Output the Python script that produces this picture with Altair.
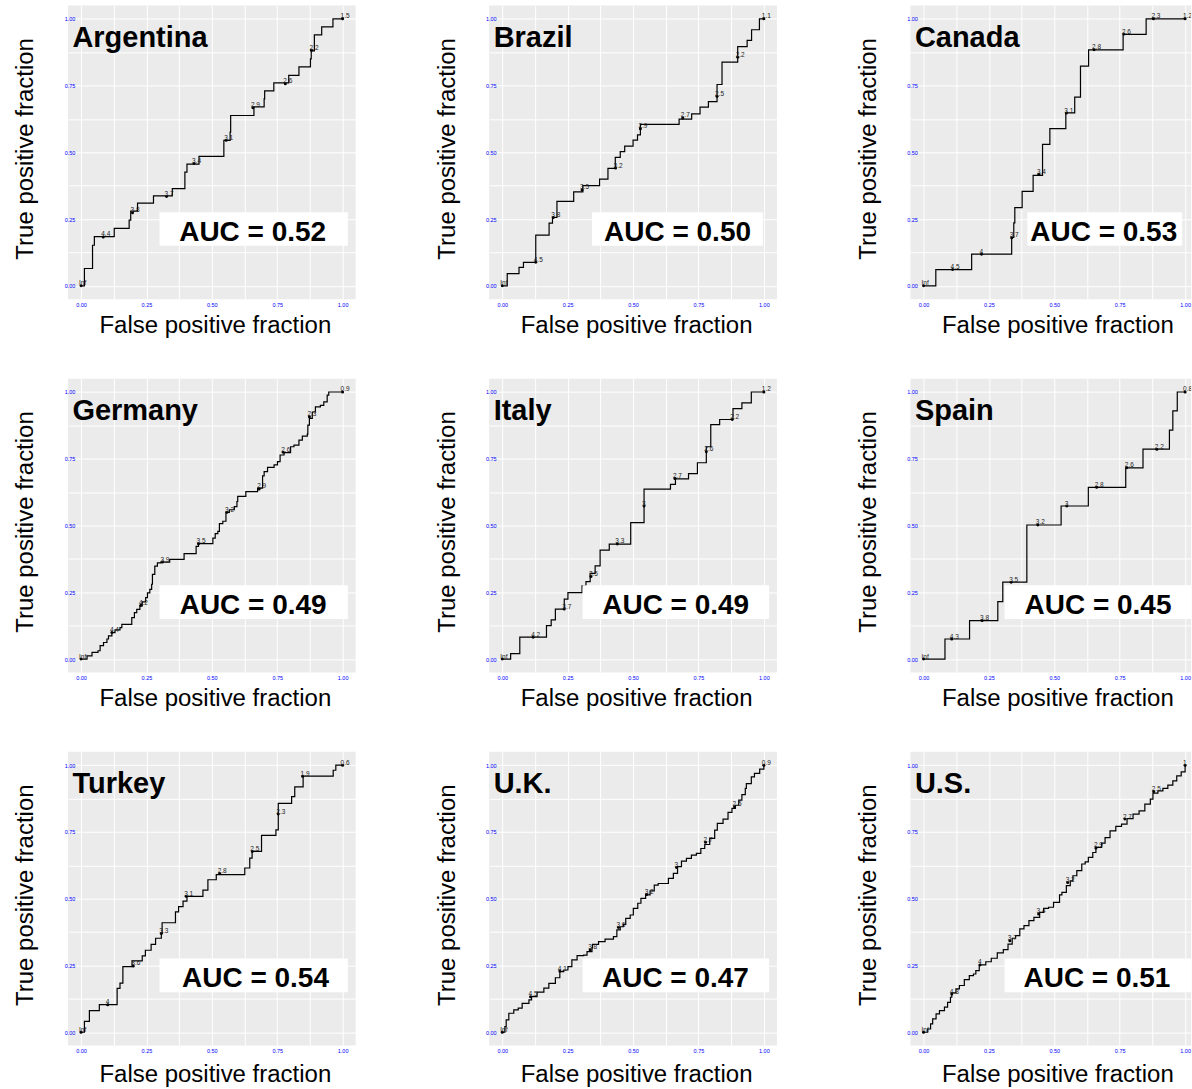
import altair as alt
import pandas as pd

FONT = "Liberation Sans"

countries = ["Argentina", "Brazil", "Canada", "Germany", "Italy", "Spain", "Turkey", "U.K.", "U.S."]
auc_values = ["0.52", "0.50", "0.53", "0.49", "0.49", "0.45", "0.54", "0.47", "0.51"]

# ---- ROC curves (false positive fraction, true positive fraction) ----
arg_fpr = [0, 0.013, 0.044, 0.051, 0.127, 0.184, 0.19, 0.216, 0.277, 0.349, 0.397, 0.405, 0.451, 0.546, 0.57, 0.572, 0.661, 0.70, 0.702, 0.737, 0.794, 0.833, 0.877, 0.88, 0.892, 0.92, 0.963, 1.0]
arg_tpr = [0, 0.065, 0.152, 0.184, 0.215, 0.246, 0.28, 0.31, 0.337, 0.364, 0.426, 0.456, 0.485, 0.545, 0.576, 0.638, 0.67, 0.70, 0.73, 0.76, 0.788, 0.82, 0.85, 0.88, 0.94, 0.97, 1.0, 1.0]
arg_cut_fpr = [0, 0.085, 0.197, 0.327, 0.432, 0.555, 0.657, 0.781, 0.881, 1.0]
arg_cut_tpr = [0, 0.183, 0.274, 0.335, 0.458, 0.545, 0.667, 0.757, 0.882, 1.0]
arg_cut = ["Inf", "4.4", "3.8", "3.7", "3.4", "3.1", "2.9", "2.6", "2.2", "1.5"]

bra_fpr = [0, 0.019, 0.064, 0.081, 0.128, 0.179, 0.192, 0.209, 0.273, 0.308, 0.372, 0.404, 0.432, 0.451, 0.468, 0.5, 0.517, 0.528, 0.676, 0.724, 0.756, 0.788, 0.821, 0.840, 0.9, 0.936, 0.953, 0.983, 1.0]
bra_tpr = [0, 0.046, 0.069, 0.088, 0.19, 0.235, 0.256, 0.316, 0.352, 0.375, 0.40, 0.44, 0.481, 0.503, 0.523, 0.546, 0.565, 0.605, 0.624, 0.644, 0.669, 0.69, 0.754, 0.838, 0.896, 0.919, 0.959, 1.0, 1.0]
bra_cut_fpr = [0, 0.128, 0.195, 0.305, 0.433, 0.528, 0.69, 0.821, 0.9, 1.0]
bra_cut_tpr = [0, 0.088, 0.256, 0.359, 0.441, 0.588, 0.629, 0.71, 0.856, 1.0]
bra_cut = ["Inf", "4.5", "3.8", "3.5", "3.2", "2.9", "2.7", "2.5", "2.2", "1.1"]

can_fpr = [0, 0.047, 0.184, 0.337, 0.345, 0.349, 0.377, 0.419, 0.455, 0.483, 0.544, 0.578, 0.6, 0.631, 0.763, 0.851, 1.0]
can_tpr = [0, 0.061, 0.119, 0.181, 0.236, 0.293, 0.354, 0.414, 0.53, 0.589, 0.648, 0.707, 0.823, 0.884, 0.942, 1.0, 1.0]
can_cut_fpr = [0, 0.111, 0.222, 0.337, 0.441, 0.546, 0.652, 0.766, 0.879, 1.0]
can_cut_tpr = [0, 0.061, 0.118, 0.18, 0.418, 0.647, 0.884, 0.943, 1.0, 1.0]
can_cut = ["Inf", "4.5", "4", "3.7", "3.4", "3.1", "2.8", "2.6", "2.3", "1.2"]

ger_fpr = [0, 0.023, 0.042, 0.065, 0.073, 0.086, 0.099, 0.105, 0.118, 0.13, 0.149, 0.156, 0.194, 0.204, 0.213, 0.225, 0.234, 0.247, 0.254, 0.263, 0.27, 0.273, 0.282, 0.292, 0.305, 0.339, 0.394, 0.44, 0.449, 0.504, 0.513, 0.523, 0.529, 0.542, 0.554, 0.567, 0.586, 0.596, 0.599, 0.63, 0.675, 0.694, 0.7, 0.713, 0.738, 0.751, 0.761, 0.776, 0.801, 0.814, 0.833, 0.846, 0.865, 0.867, 0.873, 0.884, 0.896, 0.915, 0.928, 0.941, 0.947, 1.0]
ger_tpr = [0, 0.012, 0.025, 0.031, 0.05, 0.062, 0.075, 0.087, 0.099, 0.109, 0.118, 0.13, 0.155, 0.174, 0.186, 0.199, 0.214, 0.23, 0.248, 0.261, 0.28, 0.317, 0.348, 0.36, 0.363, 0.373, 0.395, 0.422, 0.432, 0.453, 0.47, 0.478, 0.507, 0.516, 0.549, 0.559, 0.571, 0.59, 0.609, 0.627, 0.64, 0.686, 0.702, 0.718, 0.727, 0.739, 0.764, 0.773, 0.795, 0.801, 0.82, 0.835, 0.842, 0.876, 0.901, 0.925, 0.944, 0.95, 0.963, 0.988, 1.0, 1.0]
ger_cut_fpr = [0, 0.118, 0.229, 0.311, 0.449, 0.558, 0.681, 0.773, 0.873, 1.0]
ger_cut_tpr = [0, 0.099, 0.201, 0.363, 0.432, 0.55, 0.637, 0.774, 0.907, 1.0]
ger_cut = ["Inf", "4.4", "4.2", "3.9", "3.5", "3.2", "2.9", "2.6", "2.3", "0.9"]

ita_fpr = [0, 0.032, 0.067, 0.169, 0.187, 0.203, 0.237, 0.251, 0.305, 0.32, 0.336, 0.355, 0.374, 0.409, 0.491, 0.542, 0.643, 0.662, 0.712, 0.746, 0.78, 0.797, 0.831, 0.882, 0.916, 0.952, 1.0]
ita_tpr = [0, 0.02, 0.082, 0.125, 0.147, 0.187, 0.224, 0.249, 0.274, 0.29, 0.321, 0.349, 0.408, 0.43, 0.511, 0.636, 0.654, 0.675, 0.694, 0.735, 0.795, 0.878, 0.897, 0.938, 0.959, 1.0, 1.0]
ita_cut_fpr = [0, 0.118, 0.237, 0.339, 0.44, 0.542, 0.66, 0.78, 0.879, 1.0]
ita_cut_tpr = [0, 0.082, 0.187, 0.309, 0.431, 0.573, 0.676, 0.776, 0.897, 1.0]
ita_cut = ["Inf", "4.2", "3.7", "3.5", "3.3", "3", "2.7", "2.6", "2.2", "1.2"]

spa_fpr = [0, 0.082, 0.176, 0.284, 0.303, 0.395, 0.526, 0.63, 0.773, 0.839, 0.94, 0.953, 0.97, 1.0]
spa_tpr = [0, 0.075, 0.144, 0.215, 0.288, 0.502, 0.573, 0.643, 0.716, 0.786, 0.857, 0.929, 1.0, 1.0]
spa_cut_fpr = [0, 0.108, 0.224, 0.335, 0.437, 0.548, 0.662, 0.777, 0.892, 1.0]
spa_cut_tpr = [0, 0.075, 0.144, 0.288, 0.502, 0.573, 0.643, 0.716, 0.786, 1.0]
spa_cut = ["Inf", "4.3", "3.8", "3.5", "3.2", "3", "2.8", "2.6", "2.2", "0.8"]

tur_fpr = [0, 0.013, 0.032, 0.07, 0.138, 0.149, 0.16, 0.195, 0.234, 0.246, 0.268, 0.285, 0.307, 0.31, 0.361, 0.373, 0.39, 0.405, 0.466, 0.485, 0.517, 0.626, 0.645, 0.654, 0.69, 0.745, 0.754, 0.805, 0.817, 0.849, 0.964, 0.974, 1.0]
tur_tpr = [0, 0.041, 0.081, 0.103, 0.164, 0.184, 0.246, 0.267, 0.286, 0.307, 0.329, 0.352, 0.369, 0.41, 0.451, 0.47, 0.491, 0.509, 0.532, 0.571, 0.59, 0.615, 0.652, 0.677, 0.737, 0.758, 0.857, 0.882, 0.919, 0.959, 0.981, 1.0, 1.0]
tur_cut_fpr = [0, 0.102, 0.2, 0.307, 0.402, 0.53, 0.655, 0.754, 0.847, 1.0]
tur_cut_tpr = [0, 0.103, 0.248, 0.37, 0.509, 0.594, 0.677, 0.817, 0.959, 1.0]
tur_cut = ["Inf", "4", "3.6", "3.3", "3.1", "2.8", "2.5", "2.3", "1.9", "0.6"]

uk_fpr = [0, 0.01, 0.015, 0.025, 0.044, 0.061, 0.076, 0.102, 0.112, 0.133, 0.159, 0.178, 0.203, 0.22, 0.235, 0.251, 0.266, 0.286, 0.311, 0.324, 0.343, 0.345, 0.368, 0.393, 0.425, 0.438, 0.451, 0.463, 0.472, 0.489, 0.501, 0.518, 0.53, 0.548, 0.565, 0.581, 0.596, 0.622, 0.635, 0.654, 0.67, 0.685, 0.704, 0.723, 0.742, 0.759, 0.774, 0.793, 0.812, 0.822, 0.844, 0.863, 0.878, 0.891, 0.904, 0.916, 0.929, 0.933, 0.952, 0.964, 0.984, 1.0]
uk_tpr = [0, 0.021, 0.046, 0.071, 0.084, 0.09, 0.108, 0.121, 0.133, 0.15, 0.165, 0.183, 0.204, 0.227, 0.233, 0.246, 0.271, 0.287, 0.289, 0.302, 0.317, 0.329, 0.339, 0.349, 0.358, 0.383, 0.395, 0.404, 0.426, 0.439, 0.464, 0.483, 0.501, 0.514, 0.529, 0.551, 0.557, 0.557, 0.576, 0.595, 0.62, 0.641, 0.651, 0.663, 0.67, 0.688, 0.703, 0.726, 0.757, 0.782, 0.798, 0.823, 0.838, 0.85, 0.869, 0.89, 0.913, 0.931, 0.956, 0.969, 0.985, 1.0]
uk_cut_fpr = [0, 0.108, 0.22, 0.336, 0.444, 0.552, 0.666, 0.777, 0.888, 1.0]
uk_cut_tpr = [0, 0.133, 0.229, 0.308, 0.392, 0.516, 0.617, 0.711, 0.844, 1.0]
uk_cut = ["Inf", "4.5", "4.1", "3.8", "3.6", "3.2", "3", "2.7", "2.5", "0.9"]

us_fpr = [0, 0.016, 0.027, 0.035, 0.048, 0.061, 0.08, 0.092, 0.103, 0.108, 0.124, 0.137, 0.156, 0.175, 0.191, 0.2, 0.213, 0.238, 0.259, 0.282, 0.305, 0.323, 0.339, 0.352, 0.368, 0.384, 0.403, 0.422, 0.444, 0.459, 0.478, 0.497, 0.52, 0.529, 0.546, 0.561, 0.571, 0.586, 0.605, 0.618, 0.63, 0.647, 0.659, 0.681, 0.694, 0.713, 0.735, 0.757, 0.778, 0.801, 0.824, 0.846, 0.867, 0.877, 0.896, 0.915, 0.934, 0.953, 0.968, 0.985, 1.0]
us_tpr = [0, 0.012, 0.031, 0.05, 0.069, 0.081, 0.094, 0.112, 0.131, 0.147, 0.162, 0.175, 0.197, 0.212, 0.218, 0.231, 0.252, 0.264, 0.277, 0.297, 0.309, 0.33, 0.352, 0.362, 0.387, 0.399, 0.418, 0.43, 0.449, 0.464, 0.468, 0.486, 0.514, 0.524, 0.549, 0.567, 0.586, 0.605, 0.63, 0.638, 0.655, 0.673, 0.692, 0.708, 0.729, 0.754, 0.771, 0.779, 0.8, 0.817, 0.829, 0.854, 0.873, 0.895, 0.904, 0.913, 0.925, 0.941, 0.96, 0.975, 1.0]
us_cut_fpr = [0, 0.108, 0.216, 0.33, 0.44, 0.551, 0.659, 0.77, 0.88, 1.0]
us_cut_tpr = [0, 0.143, 0.252, 0.343, 0.443, 0.561, 0.69, 0.798, 0.901, 1.0]
us_cut = ["Inf", "4.3", "4", "3.7", "3.4", "3.2", "2.9", "2.7", "2.5", "1"]

curves = [
    (arg_fpr, arg_tpr, arg_cut_fpr, arg_cut_tpr, arg_cut),
    (bra_fpr, bra_tpr, bra_cut_fpr, bra_cut_tpr, bra_cut),
    (can_fpr, can_tpr, can_cut_fpr, can_cut_tpr, can_cut),
    (ger_fpr, ger_tpr, ger_cut_fpr, ger_cut_tpr, ger_cut),
    (ita_fpr, ita_tpr, ita_cut_fpr, ita_cut_tpr, ita_cut),
    (spa_fpr, spa_tpr, spa_cut_fpr, spa_cut_tpr, spa_cut),
    (tur_fpr, tur_tpr, tur_cut_fpr, tur_cut_tpr, tur_cut),
    (uk_fpr, uk_tpr, uk_cut_fpr, uk_cut_tpr, uk_cut),
    (us_fpr, us_tpr, us_cut_fpr, us_cut_tpr, us_cut),
]

# ---- layout / annotation settings ----
box_left = [0.30, 0.343, 0.397, 0.30, 0.307, 0.31, 0.30, 0.307, 0.31]
box_right = [1.02, 0.996, 0.989, 1.02, 1.02, 1.03, 1.02, 1.02, 1.03]
auc_center = [0.656, 0.67, 0.689, 0.658, 0.663, 0.667, 0.667, 0.662, 0.663]

W, H = 288, 294
W_LAST = 281
GRID = [i / 8 for i in range(9)]
LABEL_EXPR = "(datum.value * 4) % 1 == 0 ? format(datum.value, '.2f') : ''"


def panel(i):
    fpr, tpr, cfpr, ctpr, ctxt = curves[i]
    last_col = (i % 3 == 2)
    width = W_LAST if last_col else W
    xmax = -0.05 + width * 1.1 / W
    xs = alt.Scale(domain=[-0.05, xmax], nice=False, zero=False)
    ys = alt.Scale(domain=[-0.05, 1.05], nice=False, zero=False)
    title_y = 36 if i >= 6 else 33
    xax = alt.Axis(values=GRID, labelExpr=LABEL_EXPR, grid=True, gridColor="white", gridWidth=1,
                   domain=False, ticks=False, labelColor="blue", labelFont=FONT, labelFontSize=5.5,
                   labelPadding=3, labelFlush=False, labelOverlap=False,
                   title="False positive fraction", titleFont=FONT, titleFontSize=24,
                   titleFontWeight="normal", titleColor="black", titleX=147, titleY=title_y,
                   titleBaseline="alphabetic", titleAlign="center")
    yax = alt.Axis(values=GRID, labelExpr=LABEL_EXPR, grid=True, gridColor="white", gridWidth=1,
                   domain=False, ticks=False, labelColor="blue", labelFont=FONT, labelFontSize=5.5,
                   labelPadding=-7, labelFlush=False, labelOverlap=False,
                   title="True positive fraction", titleFont=FONT, titleFontSize=24,
                   titleFontWeight="normal", titleColor="black", titleX=-35, titleY=143,
                   titleBaseline="alphabetic", titleAlign="center", titleAngle=270)

    def X(f="fpr:Q"):
        return alt.X(f, scale=xs, axis=xax)

    def Y(f="tpr:Q"):
        return alt.Y(f, scale=ys, axis=yax)

    curve_df = pd.DataFrame({"fpr": fpr, "tpr": tpr})
    cut_df = pd.DataFrame({"fpr": cfpr, "tpr": ctpr, "cut": ctxt})
    name_df = pd.DataFrame({"fpr": [-0.033], "tpr": [0.895], "name": [countries[i]]})
    box_df = pd.DataFrame({"fpr": [box_left[i]], "fpr2": [box_right[i]], "tpr": [0.15], "tpr2": [0.276]})
    auc_df = pd.DataFrame({"fpr": [auc_center[i]], "tpr": [0.168], "lab": ["AUC = " + auc_values[i]]})

    line = alt.Chart(curve_df).mark_line(interpolate="step-after", color="black", strokeWidth=1.2).encode(
        x=X(), y=Y(), order="fpr:Q")
    pts = alt.Chart(cut_df).mark_point(filled=True, color="black", size=9, opacity=1, shape="circle").encode(
        x=X(), y=Y())
    cuts = alt.Chart(cut_df).mark_text(align="left", baseline="middle", dx=-2, dy=-2.5, fontSize=6.5,
                                       font=FONT, color="#222222", clip=True).encode(
        x=X(), y=Y(), text="cut:N")
    name = alt.Chart(name_df).mark_text(align="left", baseline="alphabetic", fontSize=29,
                                        fontWeight="bold", font=FONT, color="black").encode(
        x=X(), y=Y(), text="name:N")
    box = alt.Chart(box_df).mark_rect(color="white", clip=True).encode(
        x=X(), x2="fpr2:Q", y=Y(), y2="tpr2:Q")
    auc = alt.Chart(auc_df).mark_text(align="center", baseline="alphabetic", fontSize=28,
                                      fontWeight="bold", font=FONT, color="black").encode(
        x=X(), y=Y(), text="lab:N")
    return alt.layer(line, pts, cuts, name, box, auc).properties(width=width, height=H)


panels = [panel(i) for i in range(9)]

chart = alt.concat(*panels, columns=3, spacing={"row": 79.5, "column": 133.6}, bounds="flush").properties(
    padding={"left": 13, "top": 5, "right": 0, "bottom": 0},
    background="white",
).configure_view(fill="#EBEBEB", strokeWidth=0)

chart.save("out.html", embed_options={"renderer": "svg", "actions": False})
